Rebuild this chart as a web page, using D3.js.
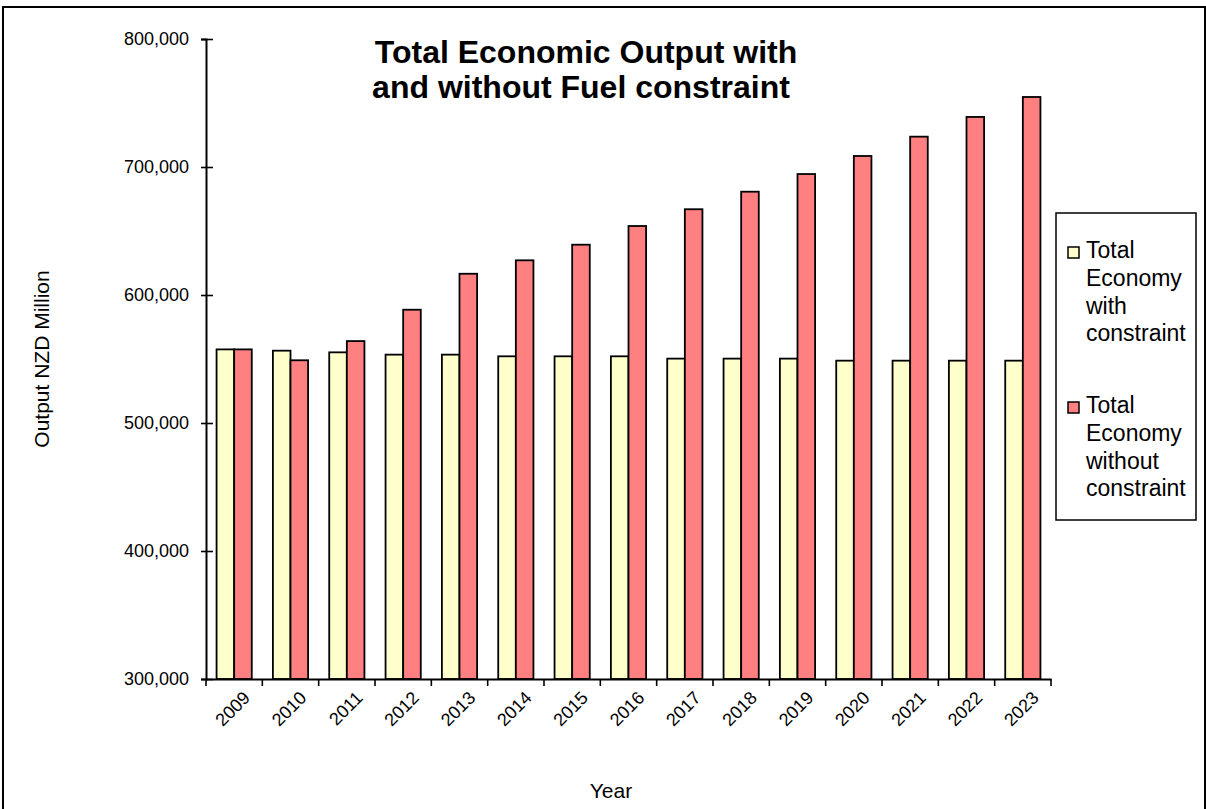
<!DOCTYPE html>
<html>
<head>
<meta charset="utf-8">
<script src="https://cdn.jsdelivr.net/npm/d3@7"></script>
<style>
  body { margin: 0; background: #fff; }
  svg { display: block; font-family: "Liberation Sans", Arial, sans-serif; }
</style>
</head>
<body>
<svg id="chart" width="1206" height="809"></svg>
<script>
// data
var years = ["2009", "2010", "2011", "2012", "2013", "2014", "2015", "2016",
             "2017", "2018", "2019", "2020", "2021", "2022", "2023"];
var withConstraint = [557500, 556500, 555200, 553400, 553400, 552100, 552100, 552100,
                      550300, 550300, 550300, 548700, 548700, 548700, 548700];
var withoutConstraint = [557500, 549000, 564000, 588500, 616600, 627100, 639300, 653900,
                         667000, 680700, 694500, 708600, 723700, 739100, 754700];
var seriesNames = ["Total Economy with constraint", "Total Economy without constraint"];
var yTicks = [300000, 400000, 500000, 600000, 700000, 800000];

var svg = d3.select("#chart");
var colors = ["#ffffcc", "#ff8080"];

var plotLeft = 206, plotRight = 1051, plotTop = 39, plotBottom = 679;

var xScale = d3.scaleBand().domain(years).range([plotLeft, plotRight]);
var xScale1 = d3.scaleBand().domain([0, 1]).range([0, xScale.bandwidth()]).paddingOuter(0.6);
var yScale = d3.scaleLinear().domain([300000, 800000]).range([plotBottom, plotTop]);

// outer frame
svg.append("rect")
    .attr("x", 3).attr("y", 7)
    .attr("width", 1202).attr("height", 820)
    .attr("fill", "none").attr("stroke", "#000").attr("stroke-width", 2);

// bars
var rows = years.map(function (y, i) {
    return { year: y, values: [withConstraint[i], withoutConstraint[i]] };
});

var slice = svg.selectAll(".slice")
    .data(rows)
    .enter().append("g")
    .attr("class", "slice")
    .attr("transform", function (d) { return "translate(" + xScale(d.year) + ",0)"; });

slice.selectAll("rect")
    .data(function (d) { return d.values; })
    .enter().append("rect")
    .attr("x", function (d, i) { return xScale1(i); })
    .attr("width", xScale1.bandwidth())
    .attr("y", function (d) { return yScale(d); })
    .attr("height", function (d) { return yScale(300000) - yScale(d); })
    .attr("fill", function (d, i) { return colors[i]; })
    .attr("stroke", "#000")
    .attr("stroke-width", 1.8);

// y axis
var yAxis = svg.append("g")
    .attr("transform", "translate(" + plotLeft + ",0)")
    .call(d3.axisLeft(yScale).tickValues(yTicks).tickSize(5).tickPadding(12)
        .tickFormat(d3.format(",")));
yAxis.select(".domain").attr("stroke-width", 2);
yAxis.selectAll(".tick line").attr("x1", 7).attr("x2", -5).attr("stroke-width", 1.6);
yAxis.selectAll("text").attr("font-size", 18).attr("font-family", "Liberation Sans, Arial, sans-serif").attr("fill", "#000");

// x axis
var xAxis = svg.append("g")
    .attr("transform", "translate(0," + plotBottom + ")")
    .call(d3.axisBottom(xScale).tickSize(0).tickSizeOuter(0));
xAxis.select(".domain").attr("stroke-width", 2);
xAxis.selectAll(".tick").remove();

// category boundary ticks
var edges = years.map(function (y) { return xScale(y); }).concat([plotRight]);
xAxis.selectAll(".edge")
    .data(edges)
    .enter().append("line")
    .attr("class", "edge")
    .attr("x1", function (d) { return d; }).attr("x2", function (d) { return d; })
    .attr("y1", 0).attr("y2", 7)
    .attr("stroke", "#000").attr("stroke-width", 1.6);

// rotated year labels
svg.selectAll(".ylab")
    .data(years)
    .enter().append("text")
    .attr("class", "ylab")
    .attr("transform", function (d) {
        return "translate(" + (xScale(d) + xScale.bandwidth() / 2 + 17) + "," + (plotBottom + 20) + ") rotate(-45)";
    })
    .attr("text-anchor", "end")
    .attr("font-size", 18)
    .attr("fill", "#000")
    .text(function (d) { return d; });

// axis titles
svg.append("text")
    .attr("x", 611).attr("y", 798)
    .attr("text-anchor", "middle")
    .attr("font-size", 21)
    .text("Year");

svg.append("text")
    .attr("transform", "translate(49,359) rotate(-90)")
    .attr("text-anchor", "middle")
    .attr("font-size", 21)
    .text("Output NZD Million");

// chart title
var title = svg.append("text")
    .attr("text-anchor", "middle")
    .attr("font-size", 32)
    .attr("font-weight", "bold");
title.append("tspan").attr("x", 586).attr("y", 63).text("Total Economic Output with");
title.append("tspan").attr("x", 581).attr("y", 98).text("and without Fuel constraint");

// legend
var legend = svg.append("g");
legend.append("rect")
    .attr("x", 1056).attr("y", 213)
    .attr("width", 140).attr("height", 307)
    .attr("fill", "#fff").attr("stroke", "#000").attr("stroke-width", 1.5);

var legendLines = [["Total", "Economy", "with", "constraint"],
                   ["Total", "Economy", "without", "constraint"]];
var legendTop = [258, 413];

legendLines.forEach(function (lines, i) {
    legend.append("rect")
        .attr("x", 1068).attr("y", legendTop[i] - 11)
        .attr("width", 11).attr("height", 11)
        .attr("fill", colors[i]).attr("stroke", "#000").attr("stroke-width", 1.5);
    var t = legend.append("text").attr("font-size", 23);
    lines.forEach(function (l, j) {
        t.append("tspan").attr("x", 1086).attr("y", legendTop[i] + j * 27.8).text(l);
    });
});
</script>
</body>
</html>
